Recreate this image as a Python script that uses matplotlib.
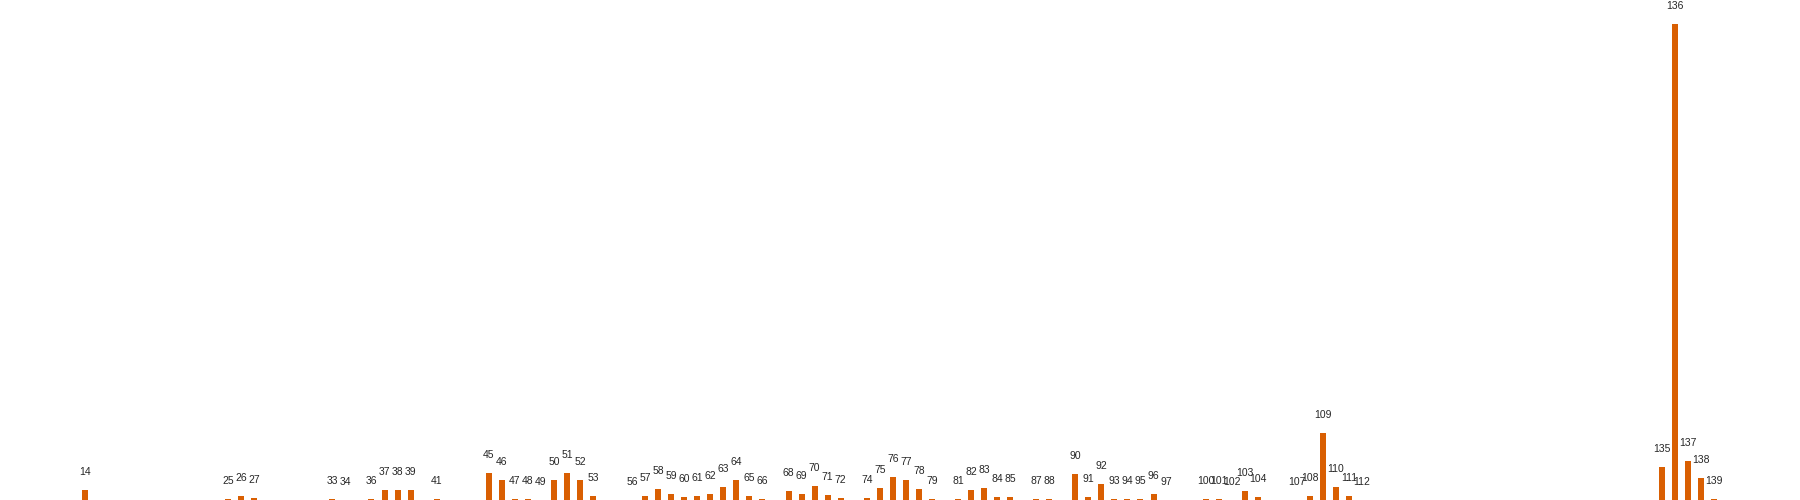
import numpy as np
import matplotlib as mpl
mpl.use("Agg")
import matplotlib.pyplot as plt

# categories that carry a bar + label
cats = [14, 25, 26, 27, 33, 34, 36, 37, 38, 39, 41, 45, 46, 47, 48, 49, 50, 51, 52, 53,
        56, 57, 58, 59, 60, 61, 62, 63, 64, 65, 66, 68, 69, 70, 71, 72, 74, 75, 76, 77,
        78, 79, 81, 82, 83, 84, 85, 87, 88, 90, 91, 92, 93, 94, 95, 96, 97, 100, 101, 102,
        103, 104, 107, 108, 109, 110, 111, 112, 135, 136, 137, 138, 139]
# bar heights
vals = [10, 1, 4, 2, 1, 0.3, 1, 10, 10, 10, 1.5, 27, 20, 1.5, 1.5, 0.3, 20, 27, 20, 4,
        0.3, 4, 11, 6, 3, 4, 6, 13, 20, 4, 1, 9, 6, 14, 5, 2, 2, 12, 23, 20,
        11, 1, 1, 10, 12, 3, 3, 1, 1, 26, 3, 16, 1, 1, 1, 6, 0.3, 1, 1, 0.3,
        9, 3, 0.3, 4, 67, 13, 4, 0.3, 33, 476, 39, 22, 1]

fig = plt.figure(figsize=(18, 5), dpi=100)
ax = fig.add_axes([0, 0, 1, 1])
ax.axis('off')

ax.bar(cats, vals, width=0.46, color='#d95f02')
for c, v in zip(cats, vals):
    ax.annotate(str(c), (c, v), xytext=(0, 18), textcoords='offset pixels',
                ha='center', va='center', fontsize=7.5, color='#262626',
                family='Liberation Sans')

ax.set_xlim(7.5, 145.6)
ax.set_ylim(0, 500)

fig.savefig('out.png', dpi=100, facecolor='white')
